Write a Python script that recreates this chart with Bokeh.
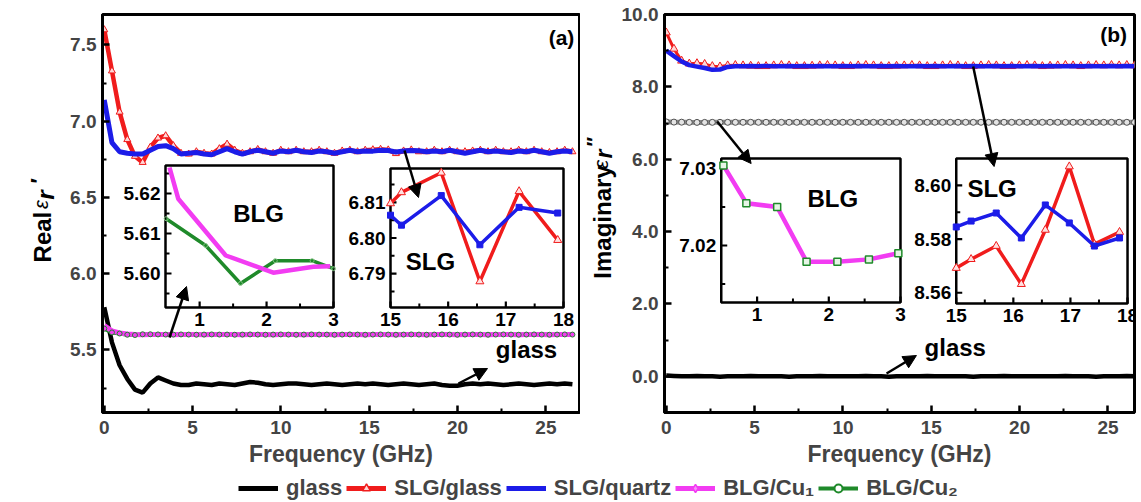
import numpy as np
from bokeh.plotting import figure
from bokeh.layouts import column, row
from bokeh.models import (Range1d, Label, Arrow, NormalHead, Legend, LegendItem,
                          FixedTicker, PrintfTickFormatter, Grid)
from bokeh.embed import file_html
from bokeh.resources import INLINE
from bokeh.core.properties import value

FONT = "Liberation Sans"
RED = "#f01c1c"
BLUE = "#1c1ce8"
MAGENTA = "#f23cf2"
GREEN = "#1f8a2a"

# ---------------- measured data ----------------
freq = np.linspace(0.0, 26.5, 62)  # GHz

# (a) real part
glass_re = [5.78, 5.55, 5.40, 5.31, 5.24, 5.22, 5.28, 5.32, 5.30, 5.28,
            5.27, 5.27, 5.28, 5.275, 5.27, 5.28, 5.275, 5.27, 5.28, 5.29,
            5.285, 5.275, 5.27, 5.275, 5.28, 5.28, 5.275, 5.27, 5.275, 5.28,
            5.275, 5.27, 5.275, 5.28, 5.275, 5.28, 5.275, 5.27, 5.275, 5.28,
            5.275, 5.27, 5.275, 5.28, 5.27, 5.265, 5.265, 5.275, 5.28, 5.275,
            5.28, 5.275, 5.27, 5.275, 5.28, 5.275, 5.27, 5.275, 5.28, 5.275,
            5.28, 5.275]
slg_glass_re = [7.60, 7.33, 7.06, 6.88, 6.77, 6.73, 6.83, 6.89, 6.905, 6.84,
                6.79, 6.785, 6.80, 6.79, 6.785, 6.82, 6.85, 6.81, 6.79, 6.80,
                6.815, 6.80, 6.79, 6.81, 6.80, 6.81, 6.80, 6.80, 6.81, 6.80,
                6.79, 6.805, 6.81, 6.80, 6.81, 6.813, 6.816, 6.812, 6.788, 6.805,
                6.812, 6.80, 6.80, 6.81, 6.80, 6.81, 6.80, 6.80, 6.805, 6.81,
                6.80, 6.81, 6.80, 6.80, 6.81, 6.80, 6.81, 6.80, 6.795, 6.80,
                6.81, 6.80]
slg_quartz_re = [7.14, 6.86, 6.80, 6.79, 6.785, 6.785, 6.81, 6.835, 6.84, 6.82,
                 6.785, 6.79, 6.795, 6.785, 6.78, 6.80, 6.82, 6.80, 6.785, 6.80,
                 6.81, 6.80, 6.79, 6.805, 6.80, 6.81, 6.80, 6.795, 6.805, 6.80,
                 6.79, 6.80, 6.81, 6.80, 6.805, 6.804, 6.81, 6.808, 6.798, 6.805,
                 6.808, 6.806, 6.80, 6.805, 6.80, 6.81, 6.80, 6.79, 6.80, 6.81,
                 6.80, 6.805, 6.80, 6.795, 6.805, 6.80, 6.81, 6.80, 6.79, 6.80,
                 6.805, 6.80]
blg_cu1_re = [5.66, 5.625, 5.612, 5.605, 5.602, 5.600, 5.601, 5.602, 5.601, 5.600,
              5.601, 5.602, 5.601, 5.600, 5.601, 5.602, 5.601, 5.601, 5.600, 5.601,
              5.602, 5.601, 5.600, 5.601, 5.602, 5.601, 5.600, 5.601, 5.602, 5.601,
              5.600, 5.601, 5.602, 5.601, 5.600, 5.601, 5.602, 5.601, 5.600, 5.601,
              5.602, 5.601, 5.600, 5.601, 5.602, 5.601, 5.600, 5.601, 5.602, 5.601,
              5.600, 5.601, 5.602, 5.601, 5.600, 5.601, 5.602, 5.601, 5.600, 5.601,
              5.602, 5.601]
blg_cu2_re = [5.64, 5.615, 5.608, 5.600, 5.598, 5.603, 5.603, 5.602, 5.601, 5.601,
              5.602, 5.601, 5.600, 5.601, 5.602, 5.601, 5.601, 5.600, 5.601, 5.602,
              5.601, 5.600, 5.601, 5.602, 5.601, 5.600, 5.601, 5.602, 5.601, 5.601,
              5.600, 5.601, 5.602, 5.601, 5.600, 5.601, 5.602, 5.601, 5.600, 5.601,
              5.602, 5.601, 5.600, 5.601, 5.602, 5.601, 5.600, 5.601, 5.602, 5.601,
              5.600, 5.601, 5.602, 5.601, 5.600, 5.601, 5.602, 5.601, 5.600, 5.601,
              5.602, 5.601]

# (b) imaginary part
glass_im = [0.02, 0.01, 0.0, 0.0, 0.01, 0.0, 0.0, -0.01, 0.0, 0.0,
            0.0, 0.01, 0.0, 0.0, 0.0, 0.0, -0.01, 0.0, 0.0, 0.0,
            0.01, 0.0, 0.0, 0.0, 0.0, 0.0, 0.01, 0.0, 0.0, -0.01,
            0.0, 0.0, 0.0, 0.0, 0.01, 0.0, 0.0, 0.0, 0.0, 0.0,
            -0.01, 0.0, 0.0, 0.0, 0.01, 0.0, 0.0, 0.0, 0.0, 0.0,
            0.0, 0.0, 0.01, 0.0, 0.0, 0.0, -0.01, 0.0, 0.0, 0.0,
            0.01, 0.0]
slg_glass_im = [9.50, 9.05, 8.72, 8.64, 8.65, 8.63, 8.57, 8.56, 8.59, 8.60,
                8.59, 8.58, 8.57, 8.57, 8.59, 8.60, 8.59, 8.57, 8.57, 8.58,
                8.59, 8.60, 8.59, 8.57, 8.57, 8.59, 8.60, 8.59, 8.57, 8.57,
                8.58, 8.59, 8.60, 8.59, 8.57, 8.57, 8.59, 8.60, 8.59, 8.57,
                8.57, 8.59, 8.60, 8.59, 8.57, 8.57, 8.59, 8.60, 8.59, 8.57,
                8.58, 8.59, 8.60, 8.59, 8.57, 8.59, 8.60, 8.59, 8.60, 8.59,
                8.60, 8.59]
slg_quartz_im = [9.00, 8.85, 8.70, 8.60, 8.56, 8.52, 8.47, 8.48, 8.55, 8.57,
                 8.57, 8.58, 8.57, 8.58, 8.57, 8.57, 8.58, 8.57, 8.58, 8.57,
                 8.58, 8.57, 8.57, 8.58, 8.57, 8.58, 8.57, 8.57, 8.58, 8.57,
                 8.58, 8.57, 8.57, 8.58, 8.57, 8.58, 8.57, 8.57, 8.58, 8.57,
                 8.58, 8.57, 8.57, 8.58, 8.57, 8.58, 8.57, 8.57, 8.58, 8.57,
                 8.58, 8.57, 8.57, 8.58, 8.57, 8.58, 8.57, 8.57, 8.58, 8.57,
                 8.58, 8.57]
blg_cu_im = [7.031, 7.026, 7.024, 7.019, 7.018, 7.018, 7.019, 7.020, 7.020, 7.020,
             7.020, 7.021, 7.020, 7.020, 7.021, 7.020, 7.020, 7.021, 7.020, 7.020,
             7.021, 7.020, 7.020, 7.021, 7.020, 7.020, 7.021, 7.020, 7.020, 7.021,
             7.020, 7.020, 7.021, 7.020, 7.020, 7.021, 7.020, 7.020, 7.021, 7.020,
             7.020, 7.021, 7.020, 7.020, 7.021, 7.020, 7.020, 7.021, 7.020, 7.020,
             7.021, 7.020, 7.020, 7.021, 7.020, 7.020, 7.021, 7.020, 7.020, 7.021,
             7.020, 7.020]

# zoomed views
ins_a_blg_f1 = [0.55, 0.68, 1.39, 2.10, 2.70, 2.95]
ins_a_blg_cu1 = [5.6265, 5.6187, 5.6045, 5.6002, 5.6017, 5.6018]
ins_a_blg_f2 = [0.50, 1.09, 1.61, 2.13, 2.68, 3.00]
ins_a_blg_cu2 = [5.6137, 5.6070, 5.5975, 5.6032, 5.6032, 5.6012]

ins_a_slg_f = [15.0, 15.19, 15.88, 16.55, 17.23, 17.90]
ins_a_slg_glass = [6.8097, 6.8128, 6.8183, 6.7878, 6.8131, 6.7994]
ins_a_slg_quartz = [6.8064, 6.8036, 6.8119, 6.7981, 6.8086, 6.8070]

ins_b_blg_f = [0.53, 0.85, 1.28, 1.69, 2.12, 2.56, 2.97]
ins_b_blg = [7.0304, 7.0255, 7.0250, 7.0179, 7.0179, 7.0182, 7.0190]

ins_b_slg_f = [15.0, 15.26, 15.70, 16.14, 16.56, 16.98, 17.42, 17.86]
ins_b_slg_quartz = [8.5845, 8.5867, 8.5897, 8.5804, 8.5927, 8.5860, 8.5774, 8.5804]
ins_b_slg_glass = [8.5692, 8.5725, 8.5774, 8.5632, 8.5834, 8.6070, 8.5781, 8.5826]

# ---------------- layout (page pixels) ----------------
H_MAIN, H_LEG = 474, 28
STRIP_A = (0, 60)        # y-title strip left of panel (a)
PANEL_A = (60, 580)
STRIP_B = (580, 618)     # y-title strip left of panel (b)
PANEL_B = (618, 1141)
FR_A = dict(L=102, R=579, T=14, B=412)
FR_B = dict(L=662, R=1134, T=14, B=412)
XR_A, YR_A = (-0.1, 26.9), (5.09, 7.70)
XR_B, YR_B = (-0.1, 26.5), (-1.0, 10.0)


def make_mapper(fr, xr, yr):
    def to_data(px, py):
        x = xr[0] + (px - fr["L"]) / (fr["R"] - fr["L"]) * (xr[1] - xr[0])
        y = yr[1] - (py - fr["T"]) / (fr["B"] - fr["T"]) * (yr[1] - yr[0])
        return x, y
    return to_data


def no_grids(p):
    for r in p.center:
        if isinstance(r, Grid):
            r.visible = False


def main_figure(span, fr, xr, yr):
    width = span[1] - span[0]
    p = figure(width=width, height=H_MAIN, x_range=Range1d(*xr), y_range=Range1d(*yr),
               toolbar_location=None, output_backend="svg",
               min_border_left=fr["L"] - span[0],
               min_border_right=span[1] - fr["R"],
               min_border_top=fr["T"], min_border_bottom=H_MAIN - fr["B"])
    no_grids(p)
    p.outline_line_color = "black"
    p.outline_line_width = 3
    for ax in (p.xaxis[0], p.yaxis[0]):
        ax.axis_line_width = 3
        ax.major_tick_in = 7
        ax.major_tick_out = 0
        ax.minor_tick_in = 4
        ax.minor_tick_out = 0
        ax.major_tick_line_width = 2.5
        ax.minor_tick_line_width = 2
        ax.major_label_text_font = FONT
        ax.major_label_text_font_style = "bold"
        ax.major_label_text_font_size = "19px"
        ax.major_label_standoff = 6
    p.xaxis.major_label_standoff = 8
    p.xaxis.ticker = FixedTicker(ticks=[0, 5, 10, 15, 20, 25],
                                 minor_ticks=[2.5, 7.5, 12.5, 17.5, 22.5])
    p.xaxis.formatter = PrintfTickFormatter(format="%d")
    p.yaxis.formatter = PrintfTickFormatter(format="%.1f")
    p.xaxis.axis_label = "Frequency (GHz)"
    p.xaxis.axis_label_text_font = FONT
    p.xaxis.axis_label_text_font_style = "bold"
    p.xaxis.axis_label_text_font_size = "23px"
    p.xaxis.axis_label_standoff = 4
    return p


def bare_figure(width, height):
    f = figure(width=width, height=height, x_range=Range1d(0, width),
               y_range=Range1d(0, height), toolbar_location=None, output_backend="svg",
               min_border=0, x_axis_location=None, y_axis_location=None,
               outline_line_color=None)
    no_grids(f)
    return f


def text_strip(span):
    f = bare_figure(span[1] - span[0], H_MAIN)

    def to_local(px, py):
        return px - span[0], H_MAIN - py
    return f, to_local


def label(p, to_data, px, py, text, size="22px", style="bold", align="center",
          baseline="middle", angle=0):
    x, y = to_data(px, py)
    p.add_layout(Label(x=x, y=y, text=text, text_font=FONT, text_font_style=style,
                       text_font_size=size, text_align=align, text_baseline=baseline,
                       angle=angle, angle_units="deg", text_color="black"))


def vlabel(p, to_data, px, py, text, size_px, style="bold"):
    # upright-reading text turned a quarter turn; the anchor sits about one
    # font size above the glyph centre once rotated, so place it below
    label(p, to_data, px, py + 0.92 * size_px, text, size=f"{size_px}px",
          style=style, angle=90)


def arrow(p, to_data, p0, p1):
    x0, y0 = to_data(*p0)
    x1, y1 = to_data(*p1)
    p.add_layout(Arrow(end=NormalHead(size=13, fill_color="black", line_color="black"),
                       x_start=x0, y_start=y0, x_end=x1, y_end=y1,
                       line_color="black", line_width=2.5))


def inset(p, to_data, box, xr, yr, xt, xmt, yt, ymt, xlab, ylab):
    L, R, T, B = box
    x0, y0 = to_data(L, B)
    x1, y1 = to_data(R, T)
    p.quad(left=[x0], right=[x1], bottom=[y0], top=[y1], fill_color="white",
           line_color="black", line_width=2.5)
    sub = p.subplot(x_source=Range1d(*xr), y_source=Range1d(*yr),
                    x_target=Range1d(x0, x1), y_target=Range1d(y0, y1))
    ux = (xr[1] - xr[0]) / (R - L)
    uy = (yr[1] - yr[0]) / (B - T)
    for ticks, ln, lw in ((xt, 6, 2.2), (xmt, 4, 2)):
        n = len(ticks)
        sub.segment(x0=ticks, y0=[yr[0]] * n, x1=ticks, y1=[yr[0] + ln * uy] * n,
                    line_color="black", line_width=lw)
    for ticks, ln, lw in ((yt, 6, 2.2), (ymt, 4, 2)):
        n = len(ticks)
        sub.segment(x0=[xr[0]] * n, y0=ticks, x1=[xr[0] + ln * ux] * n, y1=ticks,
                    line_color="black", line_width=lw)
    sub.text(x=xt, y=[yr[0]] * len(xt), text=xlab, y_offset=5, text_align="center",
             text_baseline="top", text_font=value(FONT), text_font_style="bold",
             text_font_size="19px", text_color="black")
    sub.text(x=[xr[0]] * len(yt), y=yt, text=ylab, x_offset=-5, text_align="right",
             text_baseline="middle", text_font=value(FONT), text_font_style="bold",
             text_font_size="19px", text_color="black")
    return sub


# ---------------- panel (a): real part ----------------
pa = main_figure(PANEL_A, FR_A, XR_A, YR_A)
pa.yaxis.ticker = FixedTicker(ticks=[5.5, 6.0, 6.5, 7.0, 7.5],
                              minor_ticks=[5.25, 5.75, 6.25, 6.75, 7.25])
to_a = make_mapper(FR_A, XR_A, YR_A)

pa.line(freq, glass_re, line_color="black", line_width=4.5)
pa.line(freq, blg_cu2_re, line_color=GREEN, line_width=4)
pa.line(freq, blg_cu1_re, line_color=MAGENTA, line_width=5)
pa.scatter(freq, blg_cu2_re, marker="circle", size=5, line_color=GREEN,
           fill_color=MAGENTA, line_width=1)
pa.line(freq, slg_glass_re, line_color=RED, line_width=4.5)
pa.scatter(freq, slg_glass_re, marker="triangle", size=7, line_color=RED,
           fill_color="#ffd6d6", line_width=1)
pa.line(freq, slg_quartz_re, line_color=BLUE, line_width=5)

sa1 = inset(pa, to_a, (165, 333, 165, 307), (0.49, 3.0), (5.5915, 5.627),
            [1, 2, 3], [1.5, 2.5], [5.60, 5.61, 5.62], [5.595, 5.605, 5.615, 5.625],
            ["1", "2", "3"], ["5.60", "5.61", "5.62"])
sa1.line(ins_a_blg_f2, ins_a_blg_cu2, line_color=GREEN, line_width=3.5)
sa1.scatter(ins_a_blg_f2, ins_a_blg_cu2, marker="circle", size=4, line_color="#7fbf7f",
            fill_color=None)
sa1.line(ins_a_blg_f1, ins_a_blg_cu1, line_color=MAGENTA, line_width=4.5)

sa2 = inset(pa, to_a, (390, 563, 168, 307), (15.0, 18.0), (6.7805, 6.8195),
            [15, 16, 17, 18], [15.5, 16.5, 17.5], [6.79, 6.80, 6.81],
            [6.785, 6.795, 6.805, 6.815],
            ["15", "16", "17", "18"], ["6.79", "6.80", "6.81"])
sa2.line(ins_a_slg_f, ins_a_slg_glass, line_color=RED, line_width=3.5)
sa2.scatter(ins_a_slg_f, ins_a_slg_glass, marker="triangle", size=8, line_color=RED,
            fill_color="#ffe0e0", line_width=1)
sa2.line(ins_a_slg_f, ins_a_slg_quartz, line_color=BLUE, line_width=3.5)
sa2.scatter(ins_a_slg_f, ins_a_slg_quartz, marker="square", size=6, line_color=BLUE,
            fill_color=BLUE)

label(pa, to_a, 258, 213, "BLG", size="24px")
label(pa, to_a, 430, 261, "SLG", size="24px")
label(pa, to_a, 561, 37, "(a)", size="21px")
label(pa, to_a, 526, 349, "glass", size="24px")

arrow(pa, to_a, (404, 150), (418, 197))
arrow(pa, to_a, (169, 337), (186, 286))
arrow(pa, to_a, (458, 383), (487, 368))

# ---------------- panel (b): imaginary part ----------------
pb = main_figure(PANEL_B, FR_B, XR_B, YR_B)
pb.yaxis.ticker = FixedTicker(ticks=[0, 2, 4, 6, 8, 10], minor_ticks=[-1, 1, 3, 5, 7, 9])
to_b = make_mapper(FR_B, XR_B, YR_B)

pb.line(freq, glass_im, line_color="black", line_width=4.5)
pb.line(freq, blg_cu_im, line_color="#8a8a8a", line_width=5)
pb.scatter(freq, blg_cu_im, marker="circle", size=6, line_color="#505050",
           fill_color="#e4e4e4", line_width=1)
pb.line(freq, slg_glass_im, line_color=RED, line_width=3)
pb.scatter(freq, slg_glass_im, marker="triangle", size=8, line_color=RED,
           fill_color="#ffd6d6", line_width=1)
pb.line(freq, slg_quartz_im, line_color=BLUE, line_width=4.5)

sb1 = inset(pb, to_b, (719, 899, 158, 302), (0.5, 3.0), (7.0126, 7.0313),
            [1, 2, 3], [1.5, 2.5], [7.02, 7.03], [7.015, 7.025],
            ["1", "2", "3"], ["7.02", "7.03"])
sb1.line(ins_b_blg_f, ins_b_blg, line_color=MAGENTA, line_width=4.5)
sb1.scatter(ins_b_blg_f, ins_b_blg, marker="square", size=7, line_color=GREEN,
            fill_color="#e6f5e6", line_width=1.5)

sb2 = inset(pb, to_b, (955, 1127, 158, 303), (15.0, 18.0), (8.556, 8.610),
            [15, 16, 17, 18], [15.5, 16.5, 17.5], [8.56, 8.58, 8.60], [8.57, 8.59],
            ["15", "16", "17", "18"], ["8.56", "8.58", "8.60"])
sb2.line(ins_b_slg_f, ins_b_slg_glass, line_color=RED, line_width=3.5)
sb2.scatter(ins_b_slg_f, ins_b_slg_glass, marker="triangle", size=8, line_color=RED,
            fill_color="#ffe0e0", line_width=1)
sb2.line(ins_b_slg_f, ins_b_slg_quartz, line_color=BLUE, line_width=3.5)
sb2.scatter(ins_b_slg_f, ins_b_slg_quartz, marker="square", size=6, line_color=BLUE,
            fill_color=BLUE)

label(pb, to_b, 831, 198, "BLG", size="24px")
label(pb, to_b, 991, 188, "SLG", size="24px")
label(pb, to_b, 1113, 34, "(b)", size="21px")
label(pb, to_b, 954, 347, "glass", size="24px")

arrow(pb, to_b, (715, 121), (749, 163))
arrow(pb, to_b, (972, 66), (993, 166))
arrow(pb, to_b, (885, 373), (915, 355))

# ---------------- vertical axis titles ----------------
ta, to_ta = text_strip(STRIP_A)
vlabel(ta, to_ta, 42, 243, "Real", 24)
vlabel(ta, to_ta, 40, 208, "\u03b5", 20, style="italic")
vlabel(ta, to_ta, 45, 193, "r", 24, style="bold italic")
vlabel(ta, to_ta, 38, 178, "\u2032", 22)

tb, to_tb = text_strip(STRIP_B)
vlabel(tb, to_tb, 602, 225, "Imaginary", 24)
vlabel(tb, to_tb, 600, 160, "\u03b5", 20, style="italic")
vlabel(tb, to_tb, 603, 145, "r", 23, style="bold italic")
vlabel(tb, to_tb, 593, 133, "\u2033", 20)

# ---------------- shared legend ----------------
pl = bare_figure(PANEL_B[1], H_LEG)
pl.x_range = Range1d(0, 1)
pl.y_range = Range1d(0, 1)
# the series themselves, kept outside this strip's view so only their legend keys show
lg_glass = pl.line(freq, glass_re, line_color="black", line_width=5)
lg_sg_l = pl.line(freq, slg_glass_re, line_color=RED, line_width=5)
lg_sg_m = pl.scatter(freq, slg_glass_re, marker="triangle", size=11, line_color=RED,
                     fill_color="#ffd6d6", line_width=1.5)
lg_sq = pl.line(freq, slg_quartz_re, line_color=BLUE, line_width=5)
lg_c1_l = pl.line(freq, blg_cu1_re, line_color=MAGENTA, line_width=5)
lg_c1_m = pl.scatter(freq, blg_cu1_re, marker="diamond", size=13, line_color=MAGENTA,
                     fill_color="#f88cf8", line_width=1.5)
lg_c2_l = pl.line(freq, blg_cu2_re, line_color=GREEN, line_width=4)
lg_c2_m = pl.scatter(freq, blg_cu2_re, marker="circle", size=10, line_color=GREEN,
                     fill_color="white", line_width=2)
legend = Legend(items=[
    LegendItem(label="glass", renderers=[lg_glass]),
    LegendItem(label="SLG/glass", renderers=[lg_sg_l, lg_sg_m]),
    LegendItem(label="SLG/quartz", renderers=[lg_sq]),
    LegendItem(label="BLG/Cu\u2081", renderers=[lg_c1_l, lg_c1_m]),
    LegendItem(label="BLG/Cu\u2082", renderers=[lg_c2_l, lg_c2_m]),
], orientation="horizontal", location=(238, 1), border_line_color=None,
    background_fill_alpha=0, padding=1, margin=0, spacing=4, glyph_width=40,
    glyph_height=20, label_standoff=8, label_text_font=FONT,
    label_text_font_style="bold", label_text_font_size="22px", label_height=20)
pl.add_layout(legend, "center")

layout = column(row(ta, pa, tb, pb), pl)
open("out.html", "w").write(file_html(layout, INLINE))
